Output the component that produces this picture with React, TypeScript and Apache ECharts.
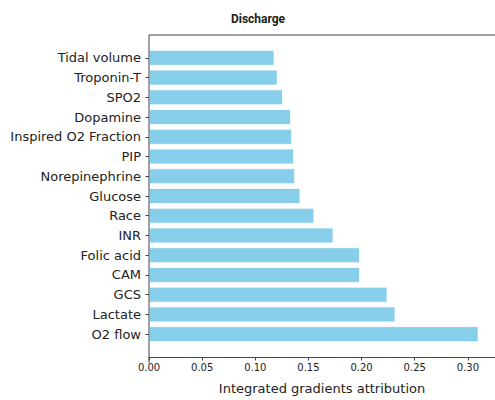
import React, { useEffect, useRef } from "react";
import * as echarts from "echarts";

const titleText = "Discharge";
const xAxisTitle = "Integrated gradients attribution";
const categories = [
  "Tidal volume",
  "Troponin-T",
  "SPO2",
  "Dopamine",
  "Inspired O2 Fraction",
  "PIP",
  "Norepinephrine",
  "Glucose",
  "Race",
  "INR",
  "Folic acid",
  "CAM",
  "GCS",
  "Lactate",
  "O2 flow",
];
const values = [
  0.118, 0.121, 0.126, 0.1336, 0.1346, 0.1364, 0.1374, 0.1424, 0.1555, 0.1735,
  0.1984, 0.1984, 0.2243, 0.2318, 0.31,
];
const xMin = 0;
const xMax = 0.3255;
const xInterval = 0.05;

export default function App() {
  const ref = useRef<HTMLDivElement>(null);
  useEffect(() => {
    if (!ref.current) return;
    const chart = echarts.init(ref.current, undefined, { renderer: "svg" });
    const spine = "#444";
    chart.setOption({
      animation: false,
      backgroundColor: "#fff",
      title: {
        text: titleText,
        left: 253,
        top: 8,
        textAlign: "center",
        textStyle: {
          fontFamily: "Roboto",
          fontWeight: "bold",
          fontSize: 12,
          color: "#222",
        },
      },
      grid: { left: 149, top: 48, width: 348, height: 302, containLabel: false },
      xAxis: {
        type: "value",
        min: xMin,
        max: xMax,
        interval: xInterval,
        offset: 13,
        splitLine: { show: false },
        axisLine: { show: true, lineStyle: { color: spine, width: 1 } },
        axisTick: { show: true, length: 3.5, lineStyle: { color: spine } },
        axisLabel: {
          showMaxLabel: false,
          fontFamily: "DejaVu Sans",
          fontSize: 10,
          color: "#222",
          margin: 5,
          formatter: (v: number) => v.toFixed(2),
        },
        name: xAxisTitle,
        nameLocation: "middle",
        nameGap: 25,
        nameTextStyle: {
          fontFamily: "DejaVu Sans",
          fontSize: 13,
          color: "#222",
        },
      },
      yAxis: {
        type: "category",
        data: categories,
        inverse: true,
        axisLine: { show: false },
        axisTick: { show: true, alignWithLabel: true, length: 3.5, lineStyle: { color: spine } },
        axisLabel: {
          fontFamily: "DejaVu Sans",
          fontSize: 13,
          color: "#222",
          margin: 8,
        },
        splitLine: { show: false },
      },
      graphic: [
        {
          type: "line",
          shape: { x1: 149, y1: 35, x2: 149, y2: 363 },
          style: { stroke: spine, lineWidth: 1 },
          z: 100,
        },
        {
          type: "line",
          shape: { x1: 149, y1: 35, x2: 497, y2: 35 },
          style: { stroke: spine, lineWidth: 1 },
          z: 100,
        },
      ],
      series: [
        {
          type: "bar",
          data: values,
          barWidth: "80%",
          itemStyle: { color: "#87CEEB", borderColor: "#ffffff", borderWidth: 0.8 },
        },
      ],
    });
    return () => chart.dispose();
  }, []);
  return (
    <div
      ref={ref}
      style={{ position: "fixed", left: 0, top: 0, width: 495, height: 400 }}
    />
  );
}
